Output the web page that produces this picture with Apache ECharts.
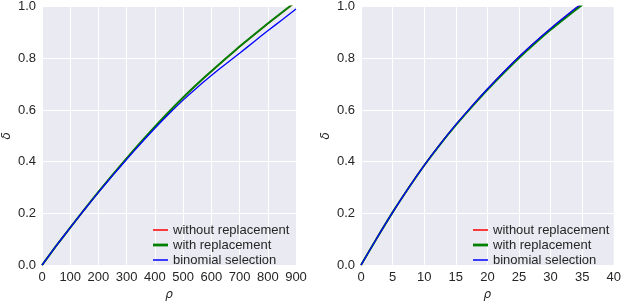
<!DOCTYPE html>
<html>
<head>
<meta charset="utf-8">
<script src="https://cdn.jsdelivr.net/npm/echarts@6/dist/echarts.min.js"></script>
<style>
html,body{margin:0;padding:0;background:#fff;}
#c{width:624px;height:306px;}
</style>
</head>
<body>
<div id="c"></div>
<script>
// ---- data ----
var seriesNames = ['without replacement', 'with replacement', 'binomial selection'];
var xTicksLeft = [0, 100, 200, 300, 400, 500, 600, 700, 800, 900];
var xTicksRight = [0, 5, 10, 15, 20, 25, 30, 35, 40];
var yTicks = [0.0, 0.2, 0.4, 0.6, 0.8, 1.0];

var rhoLeft = [0, 50, 100, 150, 200, 250, 300, 350, 400, 450, 500, 550, 600, 650, 700, 750, 800, 850, 900];
var withoutLeft = [0, 0.074, 0.145, 0.215, 0.283, 0.349, 0.413, 0.474, 0.534, 0.592, 0.647, 0.699, 0.749, 0.797, 0.844, 0.889, 0.933, 0.976, 1.018];
var withLeft    = [0, 0.074, 0.145, 0.215, 0.283, 0.349, 0.413, 0.475, 0.535, 0.593, 0.648, 0.700, 0.750, 0.798, 0.845, 0.890, 0.934, 0.977, 1.019];
var binomLeft   = [0, 0.074, 0.145, 0.214, 0.281, 0.346, 0.409, 0.470, 0.529, 0.585, 0.638, 0.687, 0.733, 0.777, 0.819, 0.863, 0.906, 0.948, 0.990];

var rhoRight = [0, 2.5, 5, 7.5, 10, 12.5, 15, 17.5, 20, 22.5, 25, 27.5, 30, 32.5, 35];
var withoutRight = [0, 0.104, 0.204, 0.298, 0.386, 0.467, 0.542, 0.613, 0.680, 0.744, 0.805, 0.861, 0.914, 0.964, 1.012];
var withRight    = [0, 0.104, 0.204, 0.297, 0.385, 0.466, 0.541, 0.611, 0.678, 0.741, 0.801, 0.857, 0.910, 0.959, 1.006];
var binomRight   = [0, 0.104, 0.204, 0.298, 0.386, 0.467, 0.543, 0.614, 0.681, 0.745, 0.806, 0.862, 0.915, 0.965, 1.013];

// ---- styles ----
var colors = ['#ff0000', '#008000', '#0000ff'];
var widths = [1.3, 2, 1.3];
var textColor = '#262626';
var font = 'Liberation Sans, Arial, sans-serif';

function pairs(xs, ys) { return xs.map(function (x, i) { return [x, ys[i]]; }); }

function makeX(idx, ticks) {
  return {
    gridIndex: idx, type: 'value',
    min: ticks[0], max: ticks[ticks.length - 1], interval: ticks[1] - ticks[0],
    axisLine: {show: false}, axisTick: {show: false},
    splitLine: {show: true, lineStyle: {color: '#ffffff', width: 1}},
    axisLabel: {color: textColor, fontSize: 13, fontFamily: font, margin: 6,
      showMinLabel: true, showMaxLabel: true},
    name: 'ρ', nameLocation: 'middle', nameGap: 22,
    nameTextStyle: {color: textColor, fontSize: 12, fontStyle: 'italic', fontFamily: 'DejaVu Sans'}
  };
}
function makeY(idx) {
  return {
    gridIndex: idx, type: 'value',
    min: yTicks[0], max: yTicks[yTicks.length - 1], interval: 0.2,
    axisLine: {show: false}, axisTick: {show: false},
    splitLine: {show: true, lineStyle: {color: '#ffffff', width: 1}},
    axisLabel: {color: textColor, fontSize: 13, fontFamily: font, margin: 6,
      formatter: function (v) { return v.toFixed(1); }},
    name: 'δ', nameLocation: 'middle', nameGap: 29,
    nameTextStyle: {color: textColor, fontSize: 12, fontStyle: 'italic', fontFamily: 'DejaVu Sans'}
  };
}
function makeSeries(idx, xs, ysList) {
  return ysList.map(function (ys, k) {
    return {
      type: 'line', name: seriesNames[k], xAxisIndex: idx, yAxisIndex: idx,
      data: pairs(xs, ys), symbol: 'none', showSymbol: false, smooth: 0.2,
      clip: true, animation: false,
      lineStyle: {color: colors[k], width: widths[k]},
      itemStyle: {color: colors[k]}
    };
  });
}
var icons = [
  'path://M0,0M15,10M0,4.25H15V5.75H0Z',
  'path://M0,0M15,10M0,3.6H15V6.4H0Z',
  'path://M0,0M15,10M0,4.25H15V5.75H0Z'
];
function makeLegend(left) {
  return {
    orient: 'vertical', left: left, top: 223, padding: 0,
    itemWidth: 15, itemHeight: 10, itemGap: 1,
    itemStyle: {borderWidth: 0},
    textStyle: {color: textColor, fontSize: 13, fontFamily: font, lineHeight: 14},
    selectedMode: false,
    data: seriesNames.map(function (n, k) { return {name: n, icon: icons[k]}; })
  };
}

var chart = echarts.init(document.getElementById('c'), null, {renderer: 'canvas'});
chart.setOption({
  animation: false,
  backgroundColor: '#ffffff',
  grid: [
    {left: 41, top: 5, width: 255, height: 266, show: true, backgroundColor: '#eaeaf2', borderWidth: 0},
    {left: 361, top: 5, width: 256, height: 266, show: true, backgroundColor: '#eaeaf2', borderWidth: 0}
  ],
  xAxis: [makeX(0, xTicksLeft), makeX(1, xTicksRight)],
  yAxis: [makeY(0), makeY(1)],
  legend: [makeLegend(153), makeLegend(473)],
  series: makeSeries(0, rhoLeft, [withoutLeft, withLeft, binomLeft])
    .concat(makeSeries(1, rhoRight, [withoutRight, withRight, binomRight]))
});
</script>
</body>
</html>
